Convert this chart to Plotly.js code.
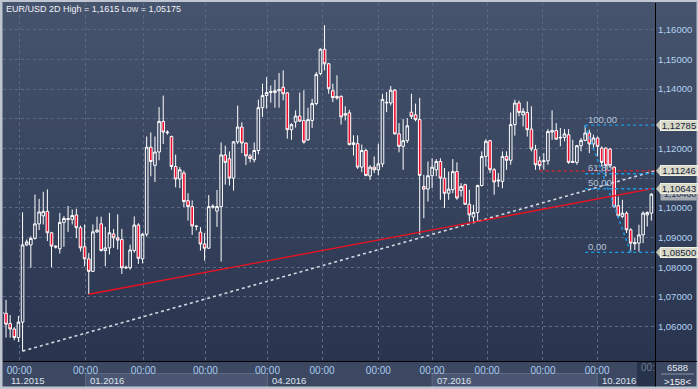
<!DOCTYPE html>
<html>
<head>
<meta charset="utf-8">
<script src="https://cdn.plot.ly/plotly-3.0.1.min.js"></script>
<style>html,body{margin:0;padding:0;background:#bfc6d2;}#chart{width:698px;height:389px;}</style>
</head>
<body>
<div id="chart"></div>
<script>
// ---- data (2D candles, EUR/USD) ----
const opens = [1.0648,1.0645,1.0610,1.0592,1.0563,1.0615,1.0875,1.0875,1.0897,1.0946,1.0973,1.0988,1.0916,1.0871,1.0862,1.0951,1.0964,1.0961,1.0976,1.0933,1.0869,1.0828,1.0786,1.0919,1.0946,1.0856,1.0865,1.0912,1.0899,1.0893,1.0800,1.0798,1.0856,1.0942,1.0828,1.0911,1.1204,1.1143,1.1188,1.1291,1.1255,1.1240,1.1139,1.1097,1.1117,1.1024,1.1004,1.0939,1.0918,1.0878,1.0864,1.1002,1.0989,1.1004,1.1178,1.1165,1.1100,1.1222,1.1272,1.1218,1.1175,1.1162,1.1193,1.1337,1.1378,1.1388,1.1388,1.1394,1.1406,1.1387,1.1263,1.1289,1.1309,1.1294,1.1229,1.1294,1.1351,1.1452,1.1534,1.1485,1.1394,1.1375,1.1375,1.1312,1.1320,1.1213,1.1216,1.1137,1.1193,1.1107,1.1137,1.1128,1.1148,1.1353,1.1353,1.1396,1.1249,1.1207,1.1226,1.1322,1.1313,1.1297,1.1072,1.1063,1.1108,1.1128,1.1156,1.1100,1.1049,1.1061,1.1122,1.1058,1.1078,1.1012,1.0969,1.0984,1.1075,1.1173,1.1226,1.1128,1.1090,1.1089,1.1173,1.1160,1.1280,1.1353,1.1313,1.1321,1.1265,1.1196,1.1158,1.1156,1.1158,1.1255,1.1260,1.1235,1.1237,1.1246,1.1156,1.1153,1.1209,1.1227,1.1252,1.1215,1.1235,1.1201,1.1201,1.1198,1.1137,1.1007,1.0971,1.0982,1.0926,1.0879,1.0881,1.0909,1.0976,1.0982];
const highs = [1.0660,1.0690,1.0639,1.0598,1.0636,1.0985,1.0893,1.0904,1.1045,1.1030,1.1054,1.1062,1.0919,1.0874,1.0983,1.0972,1.1006,1.0994,1.0997,1.0940,1.0944,1.0848,1.0944,1.0970,1.0970,1.0936,1.0983,1.0929,1.0978,1.0929,1.0805,1.0876,1.0971,1.0948,1.0915,1.1240,1.1254,1.1240,1.1339,1.1378,1.1261,1.1243,1.1179,1.1137,1.1125,1.1049,1.1025,1.0941,1.0935,1.0915,1.1043,1.1012,1.1060,1.1220,1.1209,1.1190,1.1225,1.1344,1.1288,1.1220,1.1182,1.1220,1.1364,1.1418,1.1440,1.1412,1.1431,1.1454,1.1463,1.1390,1.1285,1.1328,1.1388,1.1396,1.1337,1.1367,1.1457,1.1537,1.1615,1.1488,1.1418,1.1446,1.1379,1.1342,1.1330,1.1244,1.1244,1.1213,1.1199,1.1143,1.1173,1.1216,1.1384,1.1390,1.1410,1.1400,1.1285,1.1299,1.1302,1.1384,1.1351,1.1370,1.1111,1.1156,1.1167,1.1164,1.1167,1.1134,1.1122,1.1164,1.1153,1.1083,1.1081,1.1061,1.1010,1.1078,1.1190,1.1231,1.1229,1.1134,1.1117,1.1190,1.1190,1.1321,1.1364,1.1361,1.1336,1.1358,1.1342,1.1212,1.1173,1.1184,1.1265,1.1328,1.1285,1.1269,1.1265,1.1265,1.1229,1.1212,1.1235,1.12785,1.1263,1.1246,1.1240,1.1207,1.1204,1.1201,1.1139,1.1038,1.1027,1.0988,1.0931,1.0898,1.0943,1.0988,1.0988,1.1049];
const lows = [1.0636,1.0563,1.0563,1.0554,1.0548,1.05175,1.0871,1.0798,1.0893,1.0925,1.0944,1.0888,1.0800,1.0863,1.0846,1.0869,1.0919,1.0944,1.0898,1.0853,1.0803,1.0709,1.0784,1.0915,1.0853,1.0803,1.0843,1.0865,1.0860,1.0777,1.0794,1.0792,1.0849,1.0811,1.0813,1.0903,1.1106,1.1087,1.1160,1.1215,1.1246,1.1128,1.1069,1.1066,1.1002,1.0957,1.0909,1.0924,1.0856,1.0822,1.0862,1.0997,1.0936,1.0819,1.1078,1.1075,1.1058,1.1215,1.1184,1.1144,1.1153,1.1153,1.1180,1.1306,1.1334,1.1354,1.1337,1.1337,1.1362,1.1233,1.1229,1.1270,1.1289,1.1216,1.1225,1.1269,1.1345,1.1446,1.1463,1.1384,1.1356,1.1364,1.1280,1.1294,1.1210,1.1176,1.1131,1.1120,1.1106,1.1094,1.1117,1.1109,1.1137,1.1322,1.1345,1.1246,1.1187,1.1128,1.1218,1.1299,1.1291,1.0909,1.0965,1.1021,1.1066,1.1106,1.1027,1.0999,1.1027,1.1049,1.1027,1.1038,1.1010,1.0954,1.0948,1.0954,1.1072,1.1139,1.1117,1.1044,1.1070,1.1066,1.1128,1.1145,1.1243,1.1308,1.1274,1.1240,1.1190,1.1128,1.1128,1.1128,1.1145,1.1229,1.1229,1.1207,1.1224,1.1148,1.1151,1.1145,1.1190,1.1224,1.1184,1.1196,1.1173,1.1139,1.1106,1.1134,1.0999,1.0965,1.0965,1.0915,1.0850,1.0858,1.0852,1.0881,1.0937,1.0957];
const closes = [1.0645,1.0608,1.0592,1.0563,1.0615,1.0875,1.0885,1.0897,1.0946,1.0986,1.0988,1.0916,1.0871,1.0868,1.0951,1.0964,1.0961,1.0974,1.0933,1.0865,1.0828,1.0786,1.0919,1.0925,1.0856,1.0865,1.0916,1.0899,1.0891,1.0798,1.0798,1.0858,1.0942,1.0830,1.0911,1.1204,1.1156,1.1188,1.1291,1.1255,1.1253,1.1139,1.1097,1.1128,1.1021,1.1004,1.0939,1.0937,1.0878,1.0864,1.1004,1.1005,1.1004,1.1178,1.1153,1.1100,1.1222,1.1272,1.1218,1.1175,1.1166,1.1193,1.1337,1.1378,1.1388,1.1392,1.1394,1.1398,1.1384,1.1263,1.1280,1.1309,1.1292,1.1221,1.1297,1.1351,1.1449,1.1534,1.1485,1.1401,1.1371,1.1370,1.1306,1.1317,1.1213,1.1219,1.1137,1.1193,1.1109,1.1137,1.1128,1.1148,1.1365,1.1355,1.1396,1.1249,1.1207,1.1226,1.1276,1.1308,1.1297,1.1109,1.1063,1.1108,1.1137,1.1156,1.1100,1.1049,1.1063,1.1122,1.1033,1.1072,1.1012,1.0976,1.0984,1.1075,1.1173,1.1224,1.1128,1.1087,1.1093,1.1173,1.1160,1.1280,1.1353,1.1321,1.1325,1.1263,1.1198,1.1145,1.1142,1.1158,1.1257,1.1260,1.1231,1.1237,1.1249,1.1153,1.1153,1.1209,1.1227,1.1252,1.1215,1.1235,1.1207,1.1153,1.1142,1.1142,1.1004,1.0973,1.0982,1.0926,1.0881,1.0883,1.0909,1.0982,1.0984,1.1046];

const priceTicks = [1.06,1.07,1.08,1.09,1.10,1.11,1.12,1.13,1.14,1.15,1.16];
const priceTickText = ["1,06000","1,07000","1,08000","1,09000","1,10000","","1,12000","","1,14000","1,15000","1,16000"];
const timeTickIdx = [4.2,20.2,34.2,49.2,64.2,77.4,91.0,104.0,117.3,130.8,143.9];
const timeTickText = ["00:00","00:00","00:00","00:00","00:00","00:00","00:00","00:00","00:00","00:00","00:00"];
const monthLabels = ["11.2015","01.2016","04.2016","07.2016","10.2016"];
const monthStartIdx = [0.27,20.2,64.2,104.0,143.9];
const monthEndIdx = [20.2,64.2,104.0,143.9,157.9];

// drawn lines
const supportX = [5,157.9], supportY = [1.05175,1.11246];      // white dotted
const trendX = [21,157.2], trendY = [1.0709,1.10643];           // red solid
const resistX = [130,157.9], resistY = [1.11246,1.11246];       // red dotted
const fibLevels = [1.12785,1.11148,1.10643,1.0850];
const fibNames = ["100,00","61,80","50,00","0,00"];
const fibStart = 141, fibEnd = 157.9, fibLowIdx = 152;
const priceLabels = ["1,12785","1,11246","1,10643","1,08500"];
const priceLabelY = [1.12785,1.11246,1.10643,1.0850];
const lastPrice = 1.1046;

(function(){
const xIdx = opens.map((_, i) => i);
const X0 = 0.27, X1 = 157.88, Y0 = 1.04842, Y1 = 1.16896;
const FONT = 'Liberation Sans, Arial, sans-serif';

const traces = [{
  type:'candlestick', x:xIdx, open:opens, high:highs, low:lows, close:closes,
  increasing:{line:{color:'#ffffff',width:1}, fillcolor:'rgba(0,0,0,0)'},
  decreasing:{line:{color:'#ffffff',width:1}, fillcolor:'#f00a2c'},
  whiskerwidth:0, hoverinfo:'skip', showlegend:false
},{
  type:'scatter', mode:'lines', x:supportX, y:supportY,
  line:{color:'#d4d8e2', width:1.6, dash:'dot'}, hoverinfo:'skip', showlegend:false
},{
  type:'scatter', mode:'lines', x:trendX, y:trendY,
  line:{color:'#f01020', width:1.3}, hoverinfo:'skip', showlegend:false
},{
  type:'scatter', mode:'lines', x:resistX, y:resistY,
  line:{color:'#e0202e', width:1.3, dash:'dot'}, hoverinfo:'skip', showlegend:false
}];
fibLevels.forEach(v => traces.push({
  type:'scatter', mode:'lines', x:[fibStart,fibEnd], y:[v,v],
  line:{color:'#1e9ae6', width:1.4, dash:'dot'}, hoverinfo:'skip', showlegend:false
}));
traces.push({
  type:'scatter', mode:'lines', x:[fibStart,fibLowIdx], y:[fibLevels[0],fibLevels[3]],
  line:{color:'#1e9ae6', width:1.4, dash:'dot'}, hoverinfo:'skip', showlegend:false
});

const PW = 652, PH = 358, ML = 3, MT = 3;
const px = v => (v - ML) / PW;
const py = v => (MT + PH - v) / PH;

const shapes = [];
const cTop = [0x47,0x54,0x6e], cBot = [0x29,0x35,0x4f];
const NB = 60;
for (let i = 0; i < NB; i++) {
  const t = i/(NB-1);
  const c = cTop.map((a,k)=>Math.round(a + (cBot[k]-a)*t));
  const ya = i*361/NB, yb = (i+1)*361/NB + 0.6;
  shapes.push({type:'rect', xref:'paper', yref:'paper', layer:'below',
    x0:px(0), x1:px(698), y0:py(yb), y1:py(ya), line:{width:0},
    fillcolor:`rgb(${c[0]},${c[1]},${c[2]})`});
}
shapes.push({type:'rect', xref:'paper', yref:'paper', layer:'below', x0:px(0), x1:px(698), y0:py(389), y1:py(361), line:{width:0}, fillcolor:'#3c4862'});
[1,3].forEach(k => shapes.push({type:'rect', xref:'x', yref:'paper', layer:'below',
  x0:monthStartIdx[k], x1:monthEndIdx[k], y0:py(387), y1:py(373.5),
  line:{color:'#5d6984', width:1}, fillcolor:'#4b5772'}));
shapes.push({type:'rect', xref:'paper', yref:'paper', layer:'below', x0:px(637), x1:px(655), y0:py(387), y1:py(362), line:{width:0}, fillcolor:'#27324b'});
shapes.push({type:'rect', xref:'paper', yref:'paper', layer:'above', x0:px(0), x1:px(2.5), y0:py(389), y1:py(0), line:{width:0}, fillcolor:'#bfc6d2'});
shapes.push({type:'rect', xref:'paper', yref:'paper', layer:'above', x0:px(0), x1:px(698), y0:py(389), y1:py(386.5), line:{width:0}, fillcolor:'#bfc6d2'});
shapes.push({type:'rect', xref:'paper', yref:'paper', layer:'above', x0:px(0), x1:px(698), y0:py(2), y1:py(0), line:{width:0}, fillcolor:'#bfc6d2'});
shapes.push({type:'rect', xref:'paper', yref:'paper', layer:'above', x0:px(696.5), x1:px(698), y0:py(389), y1:py(0), line:{width:0}, fillcolor:'#bfc6d2'});
shapes.push({type:'line', xref:'paper', yref:'paper', layer:'above', x0:px(655.5), x1:px(655.5), y0:py(386.5), y1:py(361), line:{color:'#000', width:1}});
shapes.push({type:'line', xref:'paper', yref:'paper', layer:'above', x0:px(655), x1:px(697), y0:py(361.5), y1:py(361.5), line:{color:'#000', width:1}});
shapes.push({type:'line', xref:'paper', yref:'paper', layer:'above', x0:px(661), x1:px(694), y0:py(374), y1:py(374), line:{color:'#8a94a8', width:1}});

const annotations = [];
annotations.push({xref:'paper', yref:'paper', x:px(4), y:py(8.5), xanchor:'left', yanchor:'middle', showarrow:false,
  text:'EUR/USD 2D High = 1,1615 Low = 1,05175', font:{family:FONT, size:9, color:'#eef1f6'}});
monthLabels.forEach((m,i) => annotations.push({xref:'x', yref:'paper', x:monthStartIdx[i], y:py(380.5), xanchor:'left', yanchor:'middle', xshift: i===0 ? 6 : 3, showarrow:false,
  text:m, font:{family:FONT, size:9.5, color:'#dbe3ef'}}));
annotations.push({xref:'paper', yref:'paper', x:px(639), y:py(367.5), xanchor:'left', yanchor:'middle', showarrow:false, text:'00:', font:{family:FONT, size:10, color:'#6f7a8e'}});
annotations.push({xref:'paper', yref:'paper', x:px(677), y:py(367), xanchor:'center', yanchor:'middle', showarrow:false, text:'6588', font:{family:FONT, size:9.5, color:'#e4e9f1'}});
annotations.push({xref:'paper', yref:'paper', x:px(677), y:py(381), xanchor:'center', yanchor:'middle', showarrow:false, text:'&gt;158&lt;', font:{family:FONT, size:9.5, color:'#f2f4f8'}});
fibLevels.forEach((v,i) => annotations.push({xref:'x', yref:'y', x:fibStart, y:v, xanchor:'left', yanchor:'middle', xshift:1, yshift:6, showarrow:false,
  text:fibNames[i], font:{family:FONT, size:9.5, color:'#b3c4dc'}}));
annotations.push({xref:'paper', yref:'y', x:px(660), y:lastPrice, xanchor:'left', yanchor:'middle', showarrow:false,
  text:'1,10460', width:36, height:10, bgcolor:'#a4a9b2', font:{family:FONT, size:9, color:'#2a3448'}});
priceLabels.forEach((t,i) => {
  annotations.push({xref:'paper', yref:'y', x:px(660), y:priceLabelY[i], xanchor:'left', yanchor:'middle', showarrow:false,
    text:t, width:36, height:9, bgcolor:'#d8d8c8', bordercolor:'#eeeee2', borderwidth:1, borderpad:0,
    font:{family:FONT, size:9.5, color:'#17233a'}});
  shapes.push({type:'path', xref:'paper', yref:'y', layer:'above',
    path:`M ${px(656)} ${priceLabelY[i]} L ${px(660.5)} ${priceLabelY[i] + 0.0018} L ${px(660.5)} ${priceLabelY[i] - 0.0018} Z`,
    fillcolor:'#c8c8b8', line:{width:0}});
});

const layout = {
  width:698, height:389,
  margin:{l:ML, r:43, t:MT, b:28, pad:0},
  paper_bgcolor:'#3c4862', plot_bgcolor:'rgba(0,0,0,0)',
  separators:',.',
  showlegend:false, boxgap:0.1,
  font:{family:FONT},
  xaxis:{range:[X0,X1], type:'linear', rangeslider:{visible:false}, showgrid:true, gridcolor:'#5b6886', griddash:'3px,3px', gridwidth:1,
    zeroline:false, showline:true, linecolor:'#000', linewidth:1, ticks:'', tickvals:timeTickIdx, ticktext:timeTickText,
    tickfont:{size:10, color:'#a9cbef'}, fixedrange:true},
  yaxis:{range:[Y0,Y1], side:'right', showgrid:true, gridcolor:'#5b6886', griddash:'3px,3px', gridwidth:1,
    zeroline:false, showline:true, linecolor:'#000', linewidth:1, ticks:'', tickvals:priceTicks, ticktext:priceTickText,
    tickfont:{size:9.5, color:'#b2d2f2'}, fixedrange:true},
  shapes:shapes, annotations:annotations
};

Plotly.newPlot('chart', traces, layout, {displayModeBar:false, staticPlot:true});
})();
</script>
</body>
</html>
